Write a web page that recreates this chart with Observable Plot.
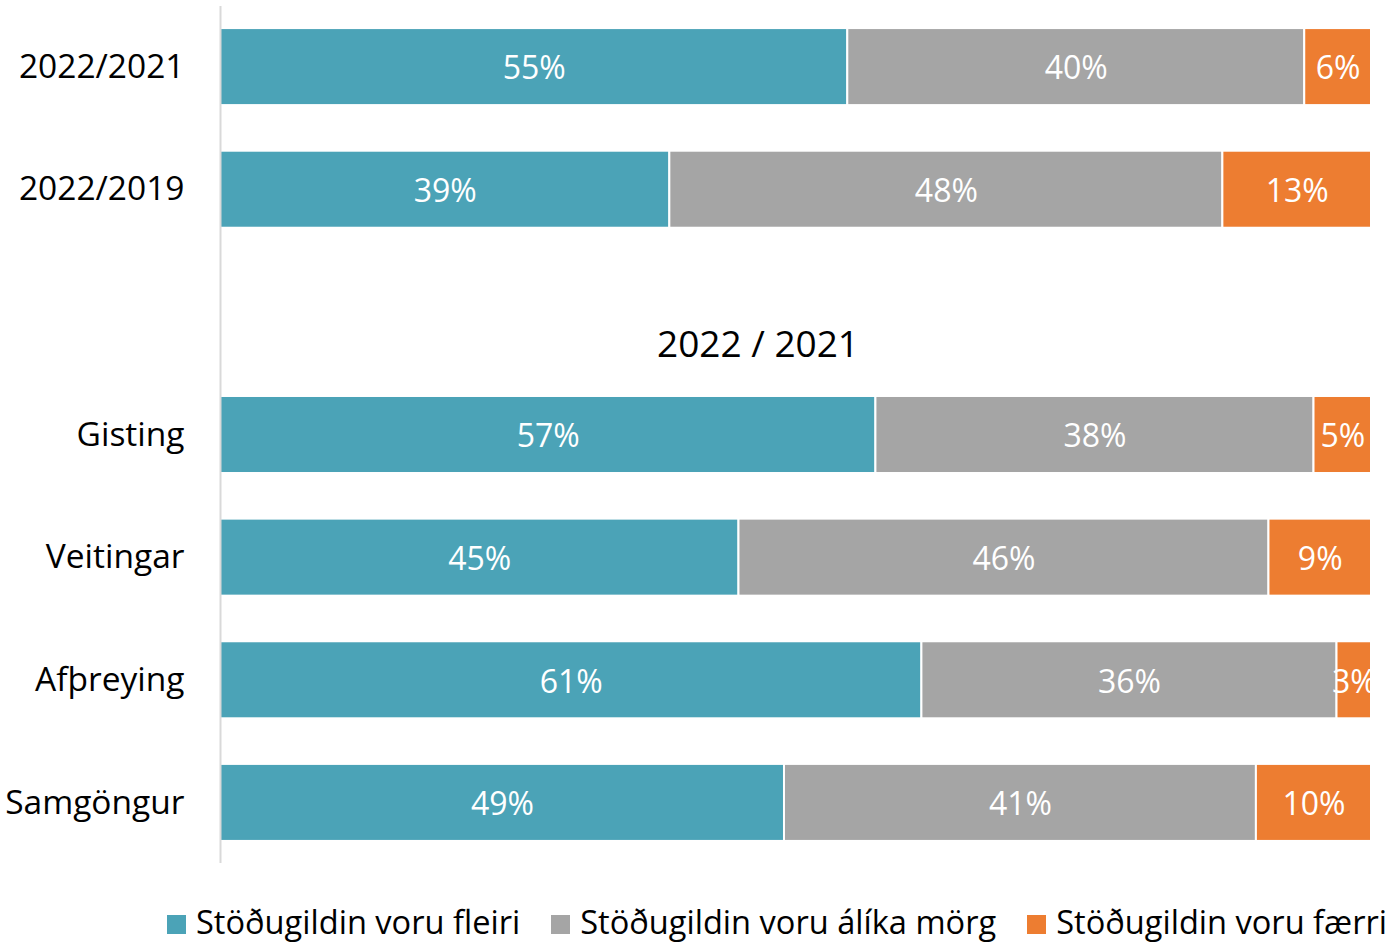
<!DOCTYPE html>
<html>
<head>
<meta charset="utf-8">
<script src="https://cdn.jsdelivr.net/npm/d3@7"></script>
<script src="https://cdn.jsdelivr.net/npm/@observablehq/plot@0.6"></script>
<style>
  html, body { margin: 0; padding: 0; background: #fff; }
  #wrap { position: relative; width: 1388px; height: 943px; overflow: hidden; font-family: "Open Sans", sans-serif; }
  #legend { position: absolute; top: 899px; left: 167px; display: flex; align-items: center; white-space: nowrap; font-size: 32.6px; color: #000; }
  .item { display: flex; align-items: center; margin-right: 31px; }
  .sw { width: 19px; height: 19px; margin-right: 10px; margin-top: 6px; }
</style>
</head>
<body>
<div id="wrap"><div id="chart"></div><div id="legend"></div></div>
<script>
// ---- data ----
const rows = ["2022/2021", "2022/2019", "Gisting", "Veitingar", "Afþreying", "Samgöngur"];
const spacer = "__spacer__";
const yDomain = ["2022/2021", "2022/2019", spacer, "Gisting", "Veitingar", "Afþreying", "Samgöngur"];
const seriesNames = ["Stöðugildin voru fleiri", "Stöðugildin voru álíka mörg", "Stöðugildin voru færri"];
const seriesColors = ["#4BA3B7", "#A5A5A5", "#ED7D31"];
const fleiri = [54.5, 39.0, 57.0, 45.0, 61.0, 49.0];
const alika  = [39.7, 48.0, 38.1, 46.0, 36.1, 41.0];
const faerri = [5.8, 12.9, 5.0, 8.9, 3.0, 10.0];
const sectionTitle = "2022 / 2021";

const seriesValues = [fleiri, alika, faerri];
const table = [];
seriesNames.forEach((s, si) => {
  rows.forEach((r, ri) => {
    table.push({row: r, series: s, value: seriesValues[si][ri]});
  });
});

const stackOpts = {x: "value", y: "row", z: "series", offset: "normalize"};

const chart = Plot.plot({
  width: 1388,
  height: 870,
  marginLeft: 220,
  marginRight: 17,
  marginTop: 6,
  marginBottom: 7,
  style: {fontFamily: "Open Sans, sans-serif", fontSize: "32px", color: "#000", background: "#fff"},
  x: {axis: null, domain: [0, 1]},
  y: {domain: yDomain, paddingInner: 0.372, paddingOuter: 0.18, round: false, label: null},
  color: {domain: seriesNames, range: seriesColors},
  marks: [
    Plot.barX(table, Plot.stackX({...stackOpts, fill: "series", stroke: "white", strokeWidth: 2})),
    Plot.text(table, Plot.stackX({...stackOpts, text: d => Math.round(d.value) + "%", fill: "white", fontSize: 32, dy: 2})),
    Plot.ruleX([0], {stroke: "#D9D9D9", strokeWidth: 2}),
    Plot.axisY({tickSize: 0, tickPadding: 36, fontSize: 33.5, tickFormat: d => d === spacer ? "" : d, label: null}),
    Plot.text([sectionTitle], {y: () => spacer, text: d => d, frameAnchor: "middle", dx: -38, dy: 33, fontSize: 37, fill: "black"})
  ]
});
document.getElementById("chart").appendChild(chart);

const legend = document.getElementById("legend");
seriesNames.forEach((s, i) => {
  const it = document.createElement("div");
  it.className = "item";
  const sw = document.createElement("div");
  sw.className = "sw";
  sw.style.background = seriesColors[i];
  const t = document.createElement("span");
  t.textContent = s;
  it.appendChild(sw);
  it.appendChild(t);
  legend.appendChild(it);
});
</script>
</body>
</html>
